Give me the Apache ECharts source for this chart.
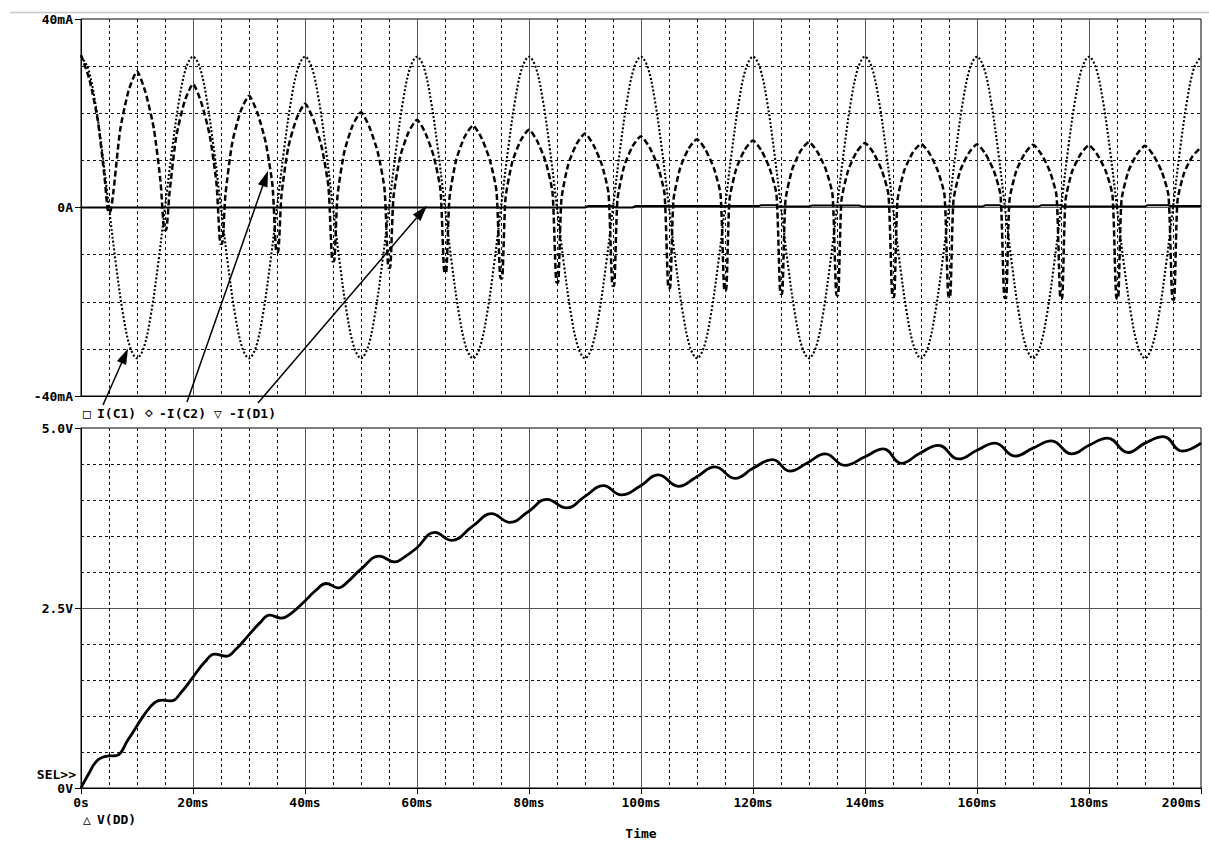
<!DOCTYPE html>
<html>
<head>
<meta charset="utf-8">
<script src="https://cdn.jsdelivr.net/npm/echarts@6/dist/echarts.min.js"></script>
<style>
html,body{margin:0;padding:0;background:#fff;overflow:hidden;}
#c{width:1209px;height:841px;}
</style>
</head>
<body>
<div id="c"></div>
<script>
// ---------------- data ----------------
const xTicks = [0, 20, 40, 60, 80, 100, 120, 140, 160, 180, 200]; // ms
const xTickLabels = ['0s','20ms','40ms','60ms','80ms','100ms','120ms','140ms','160ms','180ms','200ms'];
const topTickLabels = {'40':'40mA','0':'0A','-40':'-40mA'};
const botTickLabels = {'5':'5.0V','2.5':'2.5V','0':'0V'};

// I(C1) sampled every 1.25 ms from 0 to 200 ms (mA)
const ic1Step = 1.25;
const ic1Values = [
 32,29.6,22.6,12.2,0,-12.2,-22.6,-29.6,-32,-29.6,-22.6,-12.2,0,12.2,22.6,29.6,
 32,29.6,22.6,12.2,0,-12.2,-22.6,-29.6,-32,-29.6,-22.6,-12.2,0,12.2,22.6,29.6,
 32,29.6,22.6,12.2,0,-12.2,-22.6,-29.6,-32,-29.6,-22.6,-12.2,0,12.2,22.6,29.6,
 32,29.6,22.6,12.2,0,-12.2,-22.6,-29.6,-32,-29.6,-22.6,-12.2,0,12.2,22.6,29.6,
 32,29.6,22.6,12.2,0,-12.2,-22.6,-29.6,-32,-29.6,-22.6,-12.2,0,12.2,22.6,29.6,
 32,29.6,22.6,12.2,0,-12.2,-22.6,-29.6,-32,-29.6,-22.6,-12.2,0,12.2,22.6,29.6,
 32,29.6,22.6,12.2,0,-12.2,-22.6,-29.6,-32,-29.6,-22.6,-12.2,0,12.2,22.6,29.6,
 32,29.6,22.6,12.2,0,-12.2,-22.6,-29.6,-32,-29.6,-22.6,-12.2,0,12.2,22.6,29.6,
 32,29.6,22.6,12.2,0,-12.2,-22.6,-29.6,-32,-29.6,-22.6,-12.2,0,12.2,22.6,29.6,
 32,29.6,22.6,12.2,0,-12.2,-22.6,-29.6,-32,-29.6,-22.6,-12.2,0,12.2,22.6,29.6,
 32
];

// -I(C2) [ms, mA]
const ic2Points = [
 [0,32.4],[1.5,27.2],[3,18.5],[4.2,6.5],[4.9,-1.0],[5.2,-1.0],[5.8,3.5],[7,16.5],[8.5,24.8],
 [10,28.9],[11.5,24.5],[13,16.8],[14.2,5.5],[14.9,-4.8],[15.2,-4.8],[15.8,3.0],[17,15.0],[18.5,22.5],
 [20,26.2],[21.5,22.2],[23,15.2],[24.2,5.0],[24.9,-7.7],[25.2,-7.7],[25.8,2.8],[27,13.7],[28.5,20.4],
 [30,23.7],[31.5,20.1],[33,13.7],[34.2,4.6],[34.9,-9.5],[35.2,-9.5],[35.8,2.6],[37,12.7],[38.5,18.9],
 [40,22.0],[41.5,18.7],[43,12.7],[44.2,4.2],[44.9,-11.4],[45.2,-11.4],[45.8,2.4],[47,11.7],[48.5,17.4],
 [50,20.2],[51.5,17.1],[53,11.7],[54.2,3.9],[54.9,-12.8],[55.2,-12.8],[55.8,2.2],[57,10.8],[58.5,16.0],
 [60,18.6],[61.5,15.8],[63,10.8],[64.2,3.6],[64.9,-13.8],[65.2,-13.8],[65.8,2.0],[67,10.1],[68.5,15.0],
 [70,17.4],[71.5,14.8],[73,10.1],[74.2,3.4],[74.9,-15.0],[75.2,-15.0],[75.8,1.9],[77,9.6],[78.5,14.2],
 [80,16.5],[81.5,14.0],[83,9.6],[84.2,3.2],[84.9,-15.9],[85.2,-15.9],[85.8,1.8],[87,9.1],[88.5,13.5],
 [90,15.7],[91.5,13.3],[93,9.1],[94.2,3.0],[94.9,-16.6],[95.2,-16.6],[95.8,1.7],[97,8.8],[98.5,13.0],
 [100,15.1],[101.5,12.8],[103,8.8],[104.2,2.9],[104.9,-17.1],[105.2,-17.1],[105.8,1.6],[107,8.4],[108.5,12.5],
 [110,14.5],[111.5,12.3],[113,8.4],[114.2,2.8],[114.9,-17.6],[115.2,-17.6],[115.8,1.6],[117,8.2],[118.5,12.2],
 [120,14.2],[121.5,12.1],[123,8.2],[124.2,2.7],[124.9,-18.3],[125.2,-18.3],[125.8,1.5],[127,8.1],[128.5,12.0],
 [130,13.9],[131.5,11.8],[133,8.1],[134.2,2.7],[134.9,-18.6],[135.2,-18.6],[135.8,1.5],[137,7.9],[138.5,11.8],
 [140,13.7],[141.5,11.6],[143,7.9],[144.2,2.6],[144.9,-19.0],[145.2,-19.0],[145.8,1.5],[147,7.8],[148.5,11.6],
 [150,13.5],[151.5,11.5],[153,7.8],[154.2,2.6],[154.9,-19.0],[155.2,-19.0],[155.8,1.5],[157,7.8],[158.5,11.5],
 [160,13.4],[161.5,11.4],[163,7.8],[164.2,2.6],[164.9,-19.2],[165.2,-19.2],[165.8,1.5],[167,7.7],[168.5,11.4],
 [170,13.3],[171.5,11.3],[173,7.7],[174.2,2.5],[174.9,-19.3],[175.2,-19.3],[175.8,1.5],[177,7.7],[178.5,11.3],
 [180,13.2],[181.5,11.2],[183,7.7],[184.2,2.5],[184.9,-19.3],[185.2,-19.3],[185.8,1.5],[187,7.6],[188.5,11.2],
 [190,13.1],[191.5,11.1],[193,7.6],[194.2,2.5],[194.9,-19.5],[195.2,-19.5],[195.8,1.4],[197,7.4],[198.5,10.9],
 [200,12.8]
];

// -I(D1) [ms, mA]
const id1Points = [
 [0,0],[90,0],[90.5,0.3],[95,0.3],[95.5,0],[98.5,0],[99,0.3],[121,0.3],[121.5,0.5],[124,0.5],[124.5,0.2],
 [130,0.2],[130.5,0.4],[139,0.4],[139.5,0.2],[161,0.2],[161.5,0.5],[164,0.5],[164.5,0.2],
 [171,0.2],[171.5,0.5],[175,0.5],[175.5,0.2],[190,0.2],[190.5,0.5],[194,0.5],[194.5,0.3],[200,0.3]
];

// V(DD) [ms, V]
const vddPoints = [
 [0,0],[1.25,0.18],[3,0.39],[5,0.445],[6.3,0.45],[8.4,0.67],[11.4,1.03],[13.2,1.19],[14.6,1.22],[16.1,1.21],
 [17.9,1.33],[20,1.54],[22.1,1.75],[23.9,1.86],[25.9,1.83],[27.7,1.93],[29.8,2.11],[31.9,2.29],[33.7,2.40],
 [35.8,2.36],[37.6,2.43],[39.9,2.59],[42,2.75],[43.8,2.84],[45.9,2.78],[47.7,2.87],[50,3.04],[53.3,3.22],
 [56,3.14],[57.8,3.21],[59.9,3.33],[63.2,3.55],[66.1,3.44],[70,3.64],[73.3,3.81],[76.6,3.69],[79.9,3.84],
 [83.2,4.01],[86.7,3.89],[90,4.05],[93.3,4.20],[96.5,4.07],[99.8,4.19],[103.1,4.35],[106.7,4.19],[109.9,4.32],
 [113.2,4.46],[116.8,4.30],[120,4.44],[123.5,4.56],[126.6,4.40],[129.6,4.51],[132.9,4.64],[136.4,4.48],
 [140,4.60],[143.3,4.71],[146.5,4.51],[149.8,4.65],[153.1,4.76],[156.7,4.57],[160,4.69],[163.2,4.79],
 [166.8,4.61],[170,4.72],[173.3,4.82],[176.9,4.64],[180,4.76],[183.3,4.86],[187,4.66],[190,4.79],
 [193.3,4.88],[196.6,4.68],[200,4.79]
];

// annotation arrow tips (data coords of top plot)
const arrowTips = [[8.4,-29.9],[33.4,7.8],[61.8,0.4]];

// ---------------- chart ----------------
const FONT = 'DejaVu Sans Mono';
const FS = 13;
const chart = echarts.init(document.getElementById('c'), null, {renderer:'svg'});

const ic1Data = ic1Values.map((v,i)=>[i*ic1Step, v]);

const xLabelFmt = v => { const i = xTicks.indexOf(v); return i>=0 ? xTickLabels[i] : ''; };

function xAxisCfg(grid, showLabels){
  return {
    gridIndex: grid, type:'value', min:0, max:200, interval:20,
    axisLine:{show:true, onZero:false, lineStyle:{color:'#000', width:1}},
    axisTick:{show:showLabels, length:6, lineStyle:{color:'#000'}},
    axisLabel:{show:showLabels, formatter:xLabelFmt, color:'#000', fontFamily:FONT, fontWeight:'bold', fontSize:FS, margin:8, alignMaxLabel:'right'},
    splitLine:{show:true, showMinLine:false, showMaxLine:false, lineStyle:{color:'#555', width:1}},
    minorTick:{show:false, splitNumber:4},
    minorSplitLine:{show:true, lineStyle:{color:'#111', width:1, type:[3,3]}}
  };
}
function yAxisCfg(grid, min, max, interval, split, labels){
  return {
    gridIndex: grid, type:'value', min:min, max:max, interval:interval,
    axisLine:{show:true, onZero:false, lineStyle:{color:'#000', width:1}},
    axisTick:{show:true, length:6, lineStyle:{color:'#000'}},
    axisLabel:{color:'#000', fontFamily:FONT, fontWeight:'bold', fontSize:FS, margin:8,
      formatter: v => labels[String(v)] || ''},
    splitLine:{show:true, showMinLine:false, showMaxLine:false, lineStyle:{color:'#555', width:1}},
    minorTick:{show:false, splitNumber:split},
    minorSplitLine:{show:true, lineStyle:{color:'#111', width:1, type:[3,3]}}
  };
}

const option = {
  animation:false,
  backgroundColor:'#fff',
  grid:[
    {left:81, top:19, width:1120, height:377, show:true, borderColor:'#000', borderWidth:1, backgroundColor:'transparent'},
    {left:81, top:428, width:1120, height:360, show:true, borderColor:'#000', borderWidth:1, backgroundColor:'transparent'}
  ],
  xAxis:[xAxisCfg(0,false), xAxisCfg(1,true)],
  yAxis:[yAxisCfg(0,-40,40,40,4,topTickLabels), yAxisCfg(1,0,5,2.5,5,botTickLabels)],
  series:[
    {name:'I(C1)', type:'line', xAxisIndex:0, yAxisIndex:0, data:ic1Data, showSymbol:false, smooth:0.35,
     lineStyle:{color:'#000', width:2.1, type:[2,2]}, z:3},
    {name:'-I(C2)', type:'line', xAxisIndex:0, yAxisIndex:0, data:ic2Points, showSymbol:false, smooth:0.2,
     lineStyle:{color:'#000', width:2.5, type:[6,3]}, z:4},
    {name:'-I(D1)', type:'line', xAxisIndex:0, yAxisIndex:0, data:id1Points, showSymbol:false,
     lineStyle:{color:'#000', width:2}, z:5},
    {name:'V(DD)', type:'line', xAxisIndex:1, yAxisIndex:1, data:vddPoints, showSymbol:false, smooth:0.45,
     lineStyle:{color:'#000', width:2.8}, z:5}
  ]
};
chart.setOption(option);

// ---------------- annotations ----------------
const txt = (x,y,s,align) => ({type:'text', x:x, y:y, z:10,
  style:{text:s, fill:'#000', font:'bold '+FS+'px "'+FONT+'"', textAlign:align||'left', textVerticalAlign:'middle'}});

const tails = [[103,405],[187,402],[258,403]];
const graphics = [
  {type:'line', shape:{x1:10, y1:12.5, x2:1209, y2:12.5}, style:{stroke:'#c8c8c8', lineWidth:1.5}},
  txt(83,413,'\u25A1'), txt(97,413,'I(C1)'),
  txt(145,413,'\u22C4'), txt(159,413,'-I(C2)'),
  txt(214,413,'\u25BD'), txt(229,413,'-I(D1)'),
  txt(83,819,'\u25B3'), txt(97,819,'V(DD)'),
  txt(641,833,'Time','center'),
  txt(76,774,'SEL>>','right')
];
arrowTips.forEach((tp,i)=>{
  const p = chart.convertToPixel({gridIndex:0}, tp);
  const x1 = tails[i][0], y1 = tails[i][1], x2 = p[0], y2 = p[1];
  const ang = Math.atan2(y2-y1, x2-x1);
  const L = 16, W = 5;
  const bx = x2 - L*Math.cos(ang), by = y2 - L*Math.sin(ang);
  const px = -Math.sin(ang), py = Math.cos(ang);
  graphics.push({type:'line', shape:{x1:x1, y1:y1, x2:bx, y2:by}, style:{stroke:'#000', lineWidth:1.5}, z:10});
  graphics.push({type:'polygon', shape:{points:[[x2,y2],[bx+px*W,by+py*W],[bx-px*W,by-py*W]]}, style:{fill:'#000'}, z:10});
});
chart.setOption({graphic:graphics});
</script>
</body>
</html>
